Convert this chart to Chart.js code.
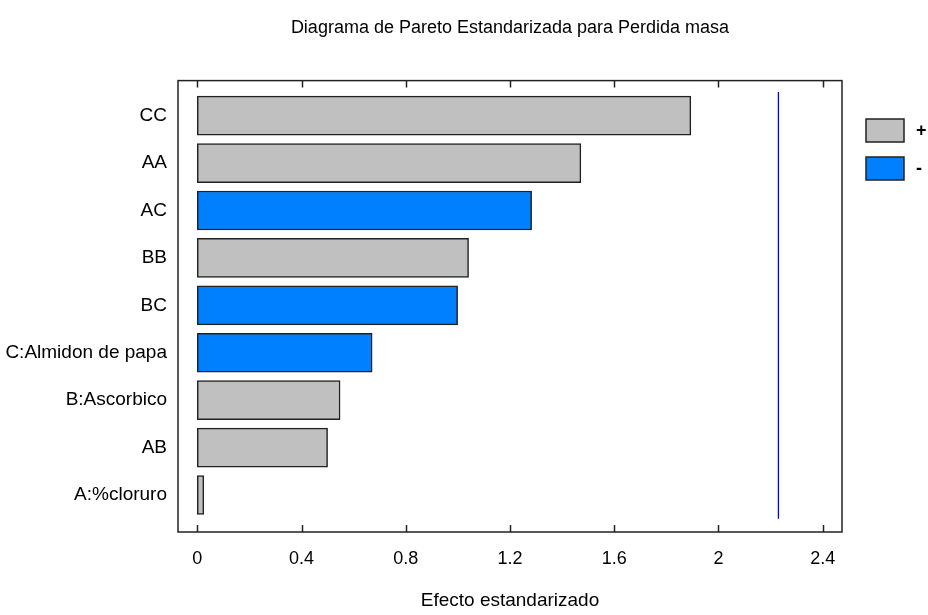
<!DOCTYPE html>
<html lang="es">
<head>
<meta charset="utf-8">
<title>Diagrama de Pareto</title>
<script src="https://cdn.jsdelivr.net/npm/chart.js@4.4.1/dist/chart.umd.min.js"></script>
<style>
    html, body { margin: 0; padding: 0; background: #fff; }
    #contenedor { width: 928px; height: 615px; }
</style>
</head>
<body>
<div id="contenedor"><canvas id="graficaPareto"></canvas></div>
<script>
const efectos = ['CC', 'AA', 'AC', 'BB', 'BC', 'C:Almidon de papa', 'B:Ascorbico', 'AB', 'A:%cloruro'];
const valores = [1.894, 1.472, 1.283, 1.041, 0.999, 0.671, 0.548, 0.500, 0.025];
const signos = ['+', '+', '-', '+', '-', '-', '+', '+', '+'];
const ticksX = [0, 0.4, 0.8, 1.2, 1.6, 2, 2.4];
const limite = 2.23; // linea vertical de significancia

const GRIS = '#c0c0c0';
const AZUL = '#0080ff';
const FUENTE = "'Liberation Sans', Arial, sans-serif";

// 2. MARCO Y TICKS HACIA ADENTRO
const marcoPlugin = {
    id: 'marco',
    afterDatasetsDraw(chart) {
        const { ctx, chartArea: a, scales } = chart;
        ctx.save();
        ctx.strokeStyle = '#222';
        ctx.lineWidth = 1.5;
        ctx.strokeRect(a.left, a.top, a.right - a.left, a.bottom - a.top);
        ctx.beginPath();
        scales.x.ticks.forEach(t => {
            const px = Math.round(scales.x.getPixelForValue(t.value)) + 0.5;
            ctx.moveTo(px, a.bottom);
            ctx.lineTo(px, a.bottom - 7);
            ctx.moveTo(px, a.top);
            ctx.lineTo(px, a.top + 7);
        });
        ctx.stroke();
        ctx.restore();
    }
};

// 3. LEYENDA (+ / -)
const leyendaPlugin = {
    id: 'leyenda',
    afterDraw(chart) {
        const ctx = chart.ctx;
        const x = chart.chartArea.right + 24;
        const items = [{ color: GRIS, texto: '+' }, { color: AZUL, texto: '-' }];
        ctx.save();
        items.forEach((it, i) => {
            const y = 119 + i * 38;
            ctx.fillStyle = it.color;
            ctx.fillRect(x, y, 38, 23);
            ctx.strokeStyle = '#222';
            ctx.lineWidth = 1.5;
            ctx.strokeRect(x, y, 38, 23);
            ctx.fillStyle = '#000';
            ctx.font = 'bold 18px ' + FUENTE;
            ctx.textAlign = 'left';
            ctx.textBaseline = 'middle';
            ctx.fillText(it.texto, x + 50, y + 12);
        });
        ctx.restore();
    }
};

// 4. GRAFICA
const ctx = document.getElementById('graficaPareto').getContext('2d');

new Chart(ctx, {
    type: 'bar',
    data: {
        datasets: [
            {
                type: 'bar',
                data: valores.map((v, i) => ({ x: v, y: i })),
                backgroundColor: signos.map(s => s === '+' ? GRIS : AZUL),
                borderColor: '#222',
                borderWidth: 1.5,
                borderSkipped: false,
                barThickness: 39,
                order: 2
            },
            {
                type: 'line',
                data: [{ x: limite, y: -0.5 }, { x: limite, y: efectos.length - 0.5 }],
                borderColor: '#0000ff',
                borderWidth: 1.3,
                pointRadius: 0,
                fill: false,
                order: 1
            }
        ]
    },
    options: {
        indexAxis: 'y',
        responsive: true,
        maintainAspectRatio: false,
        animation: false,
        layout: { padding: { left: 0, right: 86, top: 0, bottom: 0 } },
        scales: {
            x: {
                type: 'linear',
                min: -0.074,
                max: 2.474,
                offset: false,
                afterBuildTicks: s => { s.ticks = ticksX.map(v => ({ value: v })); },
                afterFit: s => { s.height = 83; },
                grid: { display: false, drawTicks: false },
                border: { display: false },
                ticks: {
                    color: '#000',
                    padding: 16,
                    font: { family: FUENTE, size: 18 },
                    callback: v => String(v)
                },
                title: {
                    display: true,
                    text: 'Efecto estandarizado',
                    color: '#000',
                    font: { family: FUENTE, size: 19 },
                    padding: { top: 0, bottom: 3 }
                }
            },
            y: {
                type: 'linear',
                reverse: true,
                min: -0.74,
                max: 8.78,
                offset: false,
                afterBuildTicks: s => { s.ticks = efectos.map((e, i) => ({ value: i })); },
                afterFit: s => { s.width = 178; },
                grid: { display: false, drawTicks: false },
                border: { display: false },
                ticks: {
                    color: '#000',
                    padding: 11,
                    font: { family: FUENTE, size: 19 },
                    callback: v => efectos[v]
                }
            }
        },
        plugins: {
            legend: { display: false },
            tooltip: { enabled: false },
            title: {
                display: true,
                fullSize: false,
                text: 'Diagrama de Pareto Estandarizada para Perdida masa',
                color: '#000',
                font: { family: FUENTE, size: 18, weight: 'normal' },
                padding: { top: 17, bottom: 42 }
            }
        }
    },
    plugins: [marcoPlugin, leyendaPlugin]
});
</script>
</body>
</html>
